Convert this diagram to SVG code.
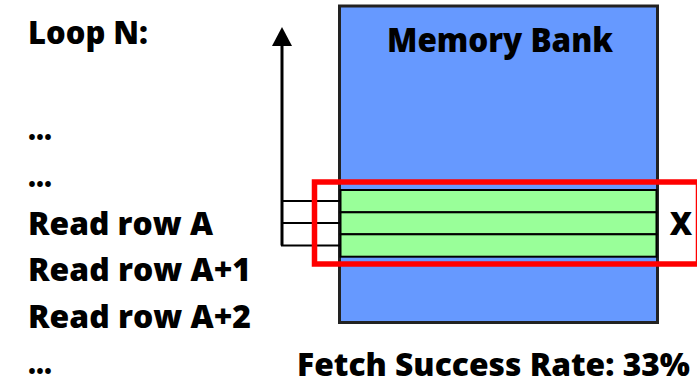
<svg xmlns="http://www.w3.org/2000/svg" width="697" height="384" viewBox="0 0 697 384">
  <style>
    .t { font-family: "Open Sans", "Liberation Sans", Arial, sans-serif; font-weight: 800; fill: #000; }
    .l { font-size: 31px; }
    .row { fill: #99FF99; stroke: #000; stroke-width: 2; }
    .conn { stroke: #000; fill: none; }
  </style>
  <defs>
    <marker id="ah" markerWidth="20" markerHeight="20" refX="1" refY="10" orient="auto" markerUnits="userSpaceOnUse" viewBox="0 0 20 20">
      <path d="M0,0 L19,10 L0,20 Z" fill="#000"/>
    </marker>
  </defs>
  <rect width="697" height="384" fill="#fff"/>

  <g id="code">
    <text class="t l" x="28" y="44" textLength="120" lengthAdjust="spacingAndGlyphs">Loop N:</text>
    <text class="t l" x="28" y="140" textLength="24" lengthAdjust="spacingAndGlyphs">...</text>
    <text class="t l" x="28" y="187" textLength="24" lengthAdjust="spacingAndGlyphs">...</text>
    <text class="t l" x="28" y="235" textLength="185" lengthAdjust="spacingAndGlyphs">Read row A</text>
    <text class="t l" x="28" y="281" textLength="223" lengthAdjust="spacingAndGlyphs">Read row A+1</text>
    <text class="t l" x="28" y="328" textLength="223" lengthAdjust="spacingAndGlyphs">Read row A+2</text>
    <text class="t l" x="28" y="374" textLength="24" lengthAdjust="spacingAndGlyphs">...</text>
  </g>

  <g id="memory-bank">
    <rect x="339.5" y="6" width="318" height="316.5" fill="#6699FF" stroke="#222" stroke-width="3"/>
    <text class="t" x="500" y="52" font-size="33" text-anchor="middle" textLength="226" lengthAdjust="spacingAndGlyphs">Memory Bank</text>
  </g>

  <g id="rows">
    <rect id="row-a" class="row" x="340.5" y="190" width="316" height="22.3"/>
    <rect id="row-a1" class="row" x="340.5" y="212.3" width="316" height="22"/>
    <rect id="row-a2" class="row" x="340.5" y="234.3" width="316" height="22.4"/>
  </g>

  <g id="connectors">
    <path class="conn" stroke-width="3" d="M282,245.5 L282,45" marker-end="url(#ah)"/>
    <path class="conn" stroke-width="2" d="M281,201 L340,201 M281,223 L340,223 M281,245.5 L340,245.5"/>
  </g>

  <g id="highlight">
    <rect x="314.5" y="182" width="384" height="82" fill="none" stroke="#FF0000" stroke-width="5.5"/>
    <text class="t" x="681" y="235" font-size="31" text-anchor="middle">X</text>
  </g>

  <g id="rate">
    <text class="t l" x="297" y="376" textLength="393" lengthAdjust="spacingAndGlyphs">Fetch Success Rate: 33%</text>
  </g>
</svg>
